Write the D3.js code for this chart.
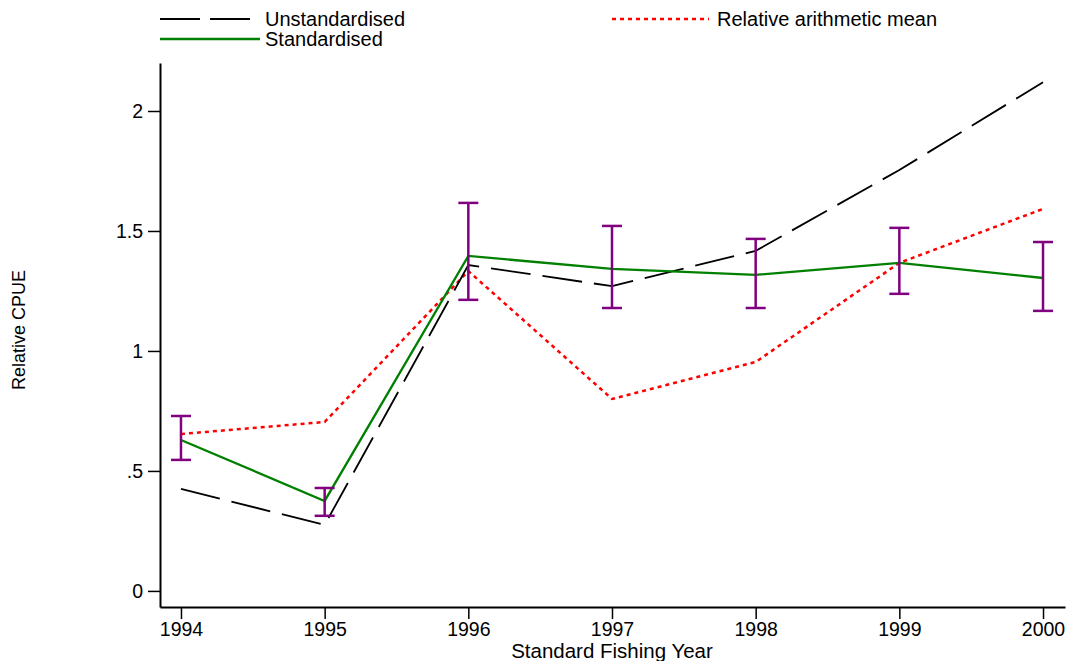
<!DOCTYPE html>
<html>
<head>
<meta charset="utf-8">
<script src="https://cdn.jsdelivr.net/npm/d3@7"></script>
<style>
  body { margin: 0; background: #fff; }
  text { font-family: "Liberation Sans", Arial, sans-serif; fill: #000; }
</style>
</head>
<body>
<svg id="chart" width="1068" height="661"></svg>
<script>
// data
const years          = [1994, 1995, 1996, 1997, 1998, 1999, 2000];
const unstandardised = [0.425, 0.275, 1.358, 1.270, 1.417, 1.754, 2.120];
const standardised   = [0.629, 0.375, 1.396, 1.342, 1.317, 1.367, 1.304];
const arithMean      = [0.654, 0.704, 1.333, 0.800, 0.954, 1.367, 1.592];
const ciLower        = [0.546, 0.313, 1.213, 1.179, 1.179, 1.238, 1.167];
const ciUpper        = [0.729, 0.429, 1.617, 1.521, 1.467, 1.513, 1.454];
const yTicks         = [0, 0.5, 1, 1.5, 2];
const yTickLabels    = ["0", ".5", "1", "1.5", "2"];

const svg = d3.select("#chart");

// scales, fitted to the reference frame
const x = d3.scaleLinear().domain([1993.854, 2000.153]).range([160, 1065]);
const y = d3.scaleLinear().domain([-0.067, 2.2]).range([607, 63]);

// axes
const xAxis = d3.axisBottom(x).tickValues(years).tickFormat(d3.format("d"))
  .tickSize(12).tickSizeOuter(0).tickPadding(3);
const yAxis = d3.axisLeft(y).tickValues(yTicks).tickFormat((d, i) => yTickLabels[i])
  .tickSize(12).tickSizeOuter(0).tickPadding(5);

const gx = svg.append("g").attr("transform", `translate(0,${y.range()[0]})`).call(xAxis);
gx.select(".domain").attr("stroke-width", 2);
gx.selectAll(".tick line").attr("stroke-width", 1.5);
gx.selectAll(".tick text").attr("font-size", 19.5);

const gy = svg.append("g").attr("transform", `translate(${x.range()[0]},0)`).call(yAxis);
gy.select(".domain").attr("stroke-width", 2);
gy.selectAll(".tick line").attr("stroke-width", 1.5);
gy.selectAll(".tick text").attr("font-size", 19.5);
svg.selectAll(".tick text").attr("fill", "#000").attr("font-family", null);

// axis titles
svg.append("text")
  .attr("x", 612).attr("y", 658).attr("text-anchor", "middle").attr("font-size", 20.5)
  .text("Standard Fishing Year");
svg.append("text")
  .attr("transform", "translate(25,330) rotate(-90)").attr("text-anchor", "middle").attr("font-size", 18)
  .text("Relative CPUE");

// series
const line = vals => d3.line().x((d, i) => x(years[i])).y(d => y(d))(vals);

svg.append("path").attr("d", line(arithMean))
  .attr("fill", "none").attr("stroke", "#ff0000").attr("stroke-width", 2.5)
  .attr("stroke-dasharray", "4,4");
svg.append("path").attr("d", line(unstandardised))
  .attr("fill", "none").attr("stroke", "#000").attr("stroke-width", 1.8)
  .attr("stroke-dasharray", "40,12");
svg.append("path").attr("d", line(standardised))
  .attr("fill", "none").attr("stroke", "#008000").attr("stroke-width", 2.3);

// error bars
const eb = svg.append("g").attr("stroke", "#800080").attr("stroke-width", 2.5).attr("fill", "none");
years.forEach((yr, i) => {
  const cx = x(yr);
  eb.append("line").attr("x1", cx).attr("x2", cx).attr("y1", y(ciLower[i])).attr("y2", y(ciUpper[i]));
  eb.append("line").attr("x1", cx - 10).attr("x2", cx + 10).attr("y1", y(ciLower[i])).attr("y2", y(ciLower[i]));
  eb.append("line").attr("x1", cx - 10).attr("x2", cx + 10).attr("y1", y(ciUpper[i])).attr("y2", y(ciUpper[i]));
});

// legend
const legend = [
  { label: "Unstandardised", x: 160, y: 19, stroke: "#000", w: 1.8, dash: "40,10", len: 90 },
  { label: "Standardised", x: 160, y: 39, stroke: "#008000", w: 2.3, dash: null, len: 100 },
  { label: "Relative arithmetic mean", x: 612, y: 19, stroke: "#ff0000", w: 2.5, dash: "4,4", len: 97 }
];
legend.forEach(l => {
  svg.append("line").attr("x1", l.x).attr("x2", l.x + l.len).attr("y1", l.y).attr("y2", l.y)
    .attr("stroke", l.stroke).attr("stroke-width", l.w).attr("stroke-dasharray", l.dash);
  svg.append("text").attr("x", l.x + 105).attr("y", l.y + 7).attr("font-size", 20).text(l.label);
});
</script>
</body>
</html>
